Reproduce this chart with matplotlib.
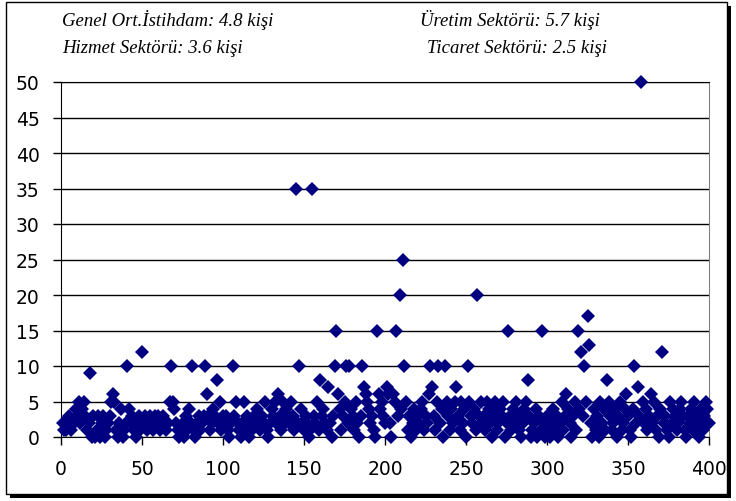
import matplotlib
matplotlib.use("Agg")
import matplotlib.pyplot as plt
from matplotlib.patches import Rectangle

# employees per firm, firm index 1..400
firm_no = list(range(1, 401))
employees = [
    2, 1, 1, 2, 3, 1, 2, 2, 4, 3, 5, 2, 4, 5, 3, 1, 2, 9, 0, 3,
    0, 1, 3, 0, 2, 3, 0, 1, 2, 3, 5, 6, 5, 1, 0, 2, 4, 0, 1, 2,
    10, 4, 2, 3, 1, 0, 2, 3, 1, 12, 2, 3, 1, 2, 3, 2, 1, 3, 2, 3,
    1, 2, 3, 2, 1, 2, 5, 10, 5, 4, 2, 1, 0, 1, 2, 0, 3, 1, 4, 2,
    10, 1, 0, 2, 3, 1, 2, 3, 10, 6, 3, 1, 2, 4, 3, 8, 2, 5, 1, 3,
    2, 3, 1, 0, 2, 10, 3, 5, 2, 1, 0, 2, 5, 1, 3, 0, 2, 1, 3, 2,
    4, 2, 1, 3, 2, 5, 1, 0, 2, 4, 3, 5, 2, 6, 3, 1, 5, 2, 4, 3,
    2, 5, 3, 1, 35, 2, 10, 4, 2, 1, 3, 2, 0, 1, 35, 3, 2, 5, 1, 8,
    3, 4, 2, 1, 7, 2, 0, 3, 10, 15, 6, 4, 1, 3, 5, 10, 2, 10, 4, 3,
    1, 5, 2, 0, 3, 10, 7, 6, 5, 4, 2, 3, 1, 0, 15, 6, 4, 5, 3, 2,
    7, 6, 2, 0, 6, 5, 15, 3, 20, 4, 25, 10, 5, 1, 3, 0, 2, 4, 1, 3,
    2, 4, 5, 1, 3, 2, 6, 10, 7, 3, 1, 5, 10, 2, 4, 0, 10, 5, 3, 1,
    4, 2, 5, 7, 3, 1, 5, 2, 4, 0, 10, 5, 3, 2, 4, 1, 20, 3, 5, 2,
    3, 1, 5, 4, 2, 0, 3, 5, 1, 2, 4, 3, 5, 0, 2, 15, 3, 1, 4, 2,
    5, 3, 1, 0, 2, 4, 5, 8, 3, 0, 1, 2, 4, 0, 3, 1, 15, 2, 0, 3,
    1, 0, 2, 4, 1, 3, 0, 2, 5, 1, 3, 6, 4, 2, 0, 3, 5, 1, 15, 4,
    12, 3, 10, 5, 17, 13, 2, 0, 4, 1, 3, 0, 5, 2, 4, 1, 8, 5, 3, 1,
    2, 4, 0, 3, 5, 1, 2, 4, 6, 3, 1, 0, 4, 10, 2, 7, 3, 50, 5, 2,
    4, 1, 3, 6, 2, 5, 1, 3, 0, 4, 12, 2, 3, 1, 0, 5, 2, 4, 3, 1,
    2, 4, 5, 3, 1, 0, 3, 2, 4, 1, 5, 3, 2, 0, 4, 1, 3, 5, 4, 2,
]
notes = ["Genel Ort.İstihdam: 4.8 kişi", "Üretim Sektörü: 5.7 kişi",
         "Hizmet Sektörü: 3.6 kişi", "Ticaret Sektörü: 2.5 kişi"]

W, H = 736, 502
fig = plt.figure(figsize=(W / 100, H / 100), dpi=100)

# chart frame with shadow
fig.patches.append(Rectangle((10 / W, 1 - 499 / H), 721 / W, 492 / H,
                             transform=fig.transFigure, facecolor="black",
                             edgecolor="none", zorder=0))
fig.patches.append(Rectangle((6 / W, 1 - 495 / H), 721 / W, 492 / H,
                             transform=fig.transFigure, facecolor="white",
                             edgecolor="black", lw=1, zorder=1))

ax = fig.add_axes([61 / W, 1 - 438 / H, 648 / W, 355 / H])
ax.set_zorder(2)
ax.plot(firm_no, employees, linestyle="none", marker="D", markersize=7.2,
        color="#000080", markeredgewidth=0, clip_on=False, zorder=3)

ax.set_xlim(0, 400)
ax.set_ylim(0, 50)
ax.set_xticks(range(0, 401, 50))
ax.set_yticks(range(0, 51, 5))
ax.yaxis.grid(True, color="black", lw=1)
ax.set_axisbelow(True)
for s in ["left", "bottom", "top"]:
    ax.spines[s].set_color("black")
ax.spines["right"].set_color("#808080")
ax.tick_params(direction="out", length=5.5, width=1, labelsize=13.5,
               colors="black")
ax.tick_params(axis="y", pad=10)
ax.tick_params(axis="x", pad=10)
for lab in ax.get_xticklabels() + ax.get_yticklabels():
    lab.set_family("DejaVu Sans")

txt = dict(family="Liberation Serif", style="italic", fontsize=13.5,
           transform=fig.transFigure, va="baseline")
fig.text(62 / W, 1 - 26 / H, notes[0], ha="left", **txt)
fig.text(420 / W, 1 - 26 / H, notes[1], ha="left", **txt)
fig.text(62 / W, 1 - 53 / H, notes[2], ha="left", **txt)
fig.text(427 / W, 1 - 53 / H, notes[3], ha="left", **txt)

fig.savefig("out.png", dpi=100)
